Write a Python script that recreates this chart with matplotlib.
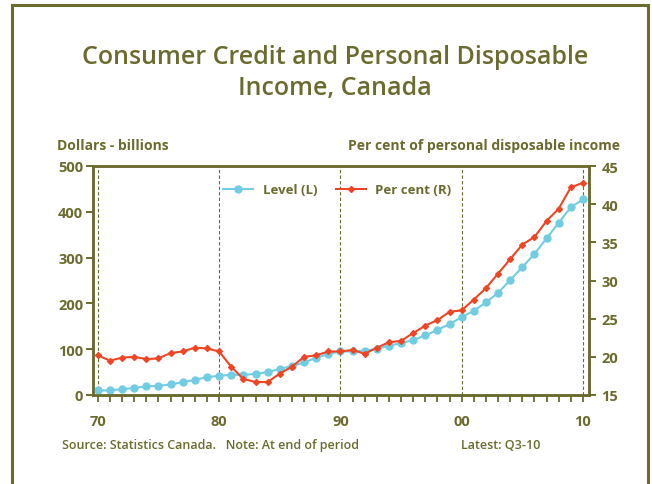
import matplotlib
matplotlib.use('Agg')

import matplotlib.pyplot as plt
from matplotlib.patches import Rectangle

# Annual data, end of period (2010 = Q3)
years = list(range(1970, 2011))

# Consumer credit outstanding, $ billions (left axis)
level = [10, 10, 13, 15, 19, 20, 23, 28, 33, 39,
         42, 44, 44, 46, 50, 57, 63, 71, 81, 90,
         95, 95, 97, 100, 108, 113, 120, 130, 142, 155,
         170, 184, 202, 223, 251, 279, 308, 342, 376, 410,
         427]

# Consumer credit as per cent of personal disposable income (right axis)
per_cent = [20.2, 19.5, 19.9, 20.0, 19.7, 19.8, 20.5, 20.7, 21.2, 21.1,
            20.7, 18.7, 17.1, 16.7, 16.7, 17.8, 18.7, 20.0, 20.2, 20.7,
            20.7, 20.9, 20.4, 21.2, 21.9, 22.1, 23.1, 24.1, 24.8, 25.9,
            26.1, 27.5, 29.0, 30.9, 32.8, 34.7, 35.7, 37.8, 39.4, 42.2,
            42.8]

decades = [1970, 1980, 1990, 2000, 2010]
decade_labels = ['70', '80', '90', '00', '10']

olive = '#6b6b2f'
blue = '#72cde2'
red = '#ee4524'

plt.rcParams['font.family'] = ['Open Sans', 'DejaVu Sans']

fig = plt.figure(figsize=(6.52, 4.85), dpi=100)
fig.patch.set_facecolor('white')

# outer frame, open at the bottom edge
fig.patches.append(Rectangle((12 / 652, -0.05), 636 / 652, 1.05 - 6 / 485,
                             transform=fig.transFigure, fill=False,
                             edgecolor=olive, linewidth=2.2))

ax = fig.add_axes([93 / 652, 1 - 396 / 485, 496 / 652, 229 / 485])
ax2 = ax.twinx()

for x in decades:
    ax.axvline(x, color=olive, linestyle=(0, (3, 2)), linewidth=0.8, zorder=1)

l1, = ax.plot(years, level, color=blue, linewidth=1.5, marker='o',
              markersize=5, zorder=3)
l2, = ax2.plot(years, per_cent, color=red, linewidth=1.5, marker='D',
               markersize=3, zorder=3)

ax.set_xlim(1969.6, 2010.5)
ax.set_ylim(0, 500)
ax2.set_ylim(15, 45)
ax.set_yticks([0, 100, 200, 300, 400, 500])
ax2.set_yticks([15, 20, 25, 30, 35, 40, 45])
ax.set_xticks(years, minor=True)
ax.set_xticks(decades)
ax.set_xticklabels(decade_labels)

for a in (ax, ax2):
    for s in a.spines.values():
        s.set_color(olive)
        s.set_linewidth(1.8)
    a.tick_params(colors=olive, width=1.4, length=5, direction='out',
                  labelsize=10.5, pad=2)
    for lab in a.get_yticklabels() + a.get_xticklabels():
        lab.set_fontweight('bold')
ax.tick_params(axis='x', which='both', length=5, width=1.3, pad=9)
ax.tick_params(axis='x', which='minor', colors=olive)
ax2.tick_params(axis='y', pad=4)

fig.text(0.514, 1 - 57 / 485, 'Consumer Credit and Personal Disposable',
         ha='center', va='center', fontsize=18, fontweight='semibold',
         color=olive)
fig.text(0.514, 1 - 88 / 485, 'Income, Canada',
         ha='center', va='center', fontsize=18, fontweight='semibold',
         color=olive)

fig.text(57 / 652, 1 - 146 / 485, 'Dollars - billions', ha='left',
         va='center', fontsize=10, fontweight='bold', color=olive)
fig.text(620 / 652, 1 - 146 / 485, 'Per cent of personal disposable income',
         ha='right', va='center', fontsize=10, fontweight='bold',
         color=olive)

fig.text(62 / 652, 1 - 446 / 485,
         'Source: Statistics Canada.   Note: At end of period',
         ha='left', va='center', fontsize=9, fontweight='semibold',
         color=olive)
fig.text(461 / 652, 1 - 446 / 485, 'Latest: Q3-10', ha='left',
         va='center', fontsize=9, fontweight='semibold', color=olive)

leg = ax2.legend([l1, l2], ['Level (L)', 'Per cent (R)'], ncol=2,
                 loc='center left', bbox_to_anchor=(223 / 652, 1 - 191 / 485),
                 bbox_transform=fig.transFigure, frameon=False,
                 borderaxespad=0, borderpad=0, handlelength=2.3,
                 handletextpad=0.7, columnspacing=1.4,
                 prop=dict(size=9.5, weight='bold'))
for t in leg.get_texts():
    t.set_color(olive)

fig.savefig('out.png', dpi=100, facecolor='white')
